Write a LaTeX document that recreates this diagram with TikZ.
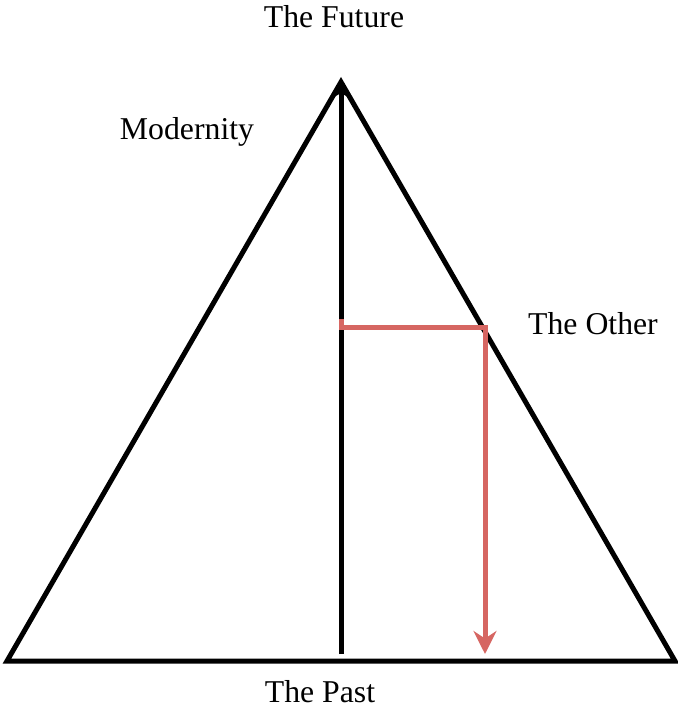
\documentclass[tikz,border=0pt]{standalone}
\usepackage{fontspec}
\setmainfont{Liberation Serif}
\usetikzlibrary{arrows.meta}
\definecolor{otherred}{RGB}{214,102,98}

\begin{document}
\begin{tikzpicture}[x=0.4pt, y=-0.4pt, font=\fontsize{12.7}{15}\selectfont,
  side/.style={line width=2pt, line join=miter},
  axis/.style={line width=2pt, -{Stealth[length=8pt, width=7.2pt, inset=2pt]}},
  turn/.style={otherred, line width=2pt, -{Stealth[length=9.2pt, width=9.2pt, inset=3pt]}}]
\useasboundingbox (0,0) rectangle (678,707);
% corners of the triangle
\coordinate (top) at (341,82);
\coordinate (left) at (7,661);
\coordinate (right) at (675,661);
\draw[side] (left)--(top)--(right)--cycle;
% the time axis
\coordinate (low) at (341,654);
\coordinate (tip) at (341,78);
\draw[axis] (low)--(tip);
% the detour of the other
\coordinate (start) at (341,319);
\coordinate (bend) at (341,327);
\coordinate (edge) at (485,327);
\coordinate (drop) at (485,654);
\draw[turn] (start)--(bend)--(edge)--(drop);
% labels
\foreach \x/\y/\name/\txt in {334/17/future/The Future, 187/132/modern/Modernity, 593/324/other/The Other, 320/692/past/The Past}
  \node (\name) at (\x,\y) {\txt};
\end{tikzpicture}
\end{document}
